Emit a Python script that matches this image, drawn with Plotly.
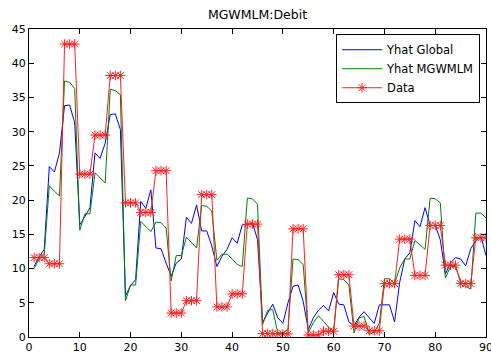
import plotly.graph_objects as go

x_index = list(range(1, 91))

yhat_global = [
    10.3, 11.7, 12.8, 24.9, 24.1, 26.9, 33.8, 33.9, 31.3, 16.4,
    17.6, 18.9, 26.9, 26.1, 28.3, 32.5, 32.6, 30.3, 6.0, 7.5,
    8.4, 19.8, 18.8, 21.5, 13.0, 12.9, 10.8, 8.9, 10.8, 11.4,
    17.5, 16.6, 19.3, 15.5, 15.5, 13.3, 10.3, 11.8, 12.8, 14.5,
    13.7, 16.4, 16.4, 16.7, 14.2, 2.1, 3.5, 4.8, 2.8, 2.0,
    5.0, 7.4, 7.6, 5.2, 1.1, 2.8, 3.9, 4.6, 3.8, 6.5,
    4.8, 4.7, 2.2, 1.6, 2.9, 3.7, 2.8, 2.0, 4.7, 4.7,
    4.7, 2.2, 8.0, 11.4, 12.3, 17.0, 16.1, 18.9, 16.3, 16.3,
    14.2, 9.2, 10.8, 11.6, 11.4, 10.4, 12.9, 14.1, 14.7, 11.9,
]

yhat_mgwmlm = [
    10.0, 11.4, 12.1, 22.1, 21.3, 20.6, 37.4, 37.2, 36.3, 15.6,
    18.0, 18.0, 24.0, 23.2, 22.5, 36.2, 36.0, 35.4, 5.3, 7.6,
    7.6, 16.9, 16.1, 15.4, 16.8, 16.7, 15.9, 8.2, 11.9, 11.9,
    14.6, 13.8, 13.0, 19.2, 19.1, 18.4, 11.2, 12.1, 12.1, 11.4,
    10.6, 10.3, 20.3, 20.2, 19.4, 1.8, 3.9, 4.0, 0.6, 0.6,
    1.1, 11.4, 11.3, 10.6, 0.6, 2.1, 3.1, 2.3, 1.4, 0.9,
    8.5, 8.4, 7.6, 0.6, 2.8, 3.0, 0.4, 0.7, 2.0, 8.5,
    8.5, 7.8, 10.1, 11.4, 11.4, 14.1, 13.4, 12.8, 20.3, 20.2,
    19.6, 8.6, 10.3, 10.3, 8.2, 7.4, 7.0, 18.1, 18.1, 17.4,
]

data_values = [
    11.6, 11.6, 11.6, 10.7, 10.7, 10.7, 42.8, 42.8, 42.8, 23.8,
    23.8, 23.8, 29.5, 29.5, 29.5, 38.2, 38.2, 38.2, 19.6, 19.6,
    19.6, 18.2, 18.2, 18.2, 24.3, 24.3, 24.3, 3.5, 3.5, 3.5,
    5.3, 5.3, 5.3, 20.8, 20.8, 20.8, 4.4, 4.4, 4.4, 6.3,
    6.3, 6.3, 16.5, 16.5, 16.5, 0.5, 0.5, 0.5, 0.45, 0.45,
    0.45, 15.8, 15.8, 15.8, 0.3, 0.3, 0.3, 0.85, 0.85, 0.85,
    9.1, 9.1, 9.1, 1.6, 1.6, 1.6, 0.9, 0.9, 0.9, 7.8,
    7.8, 7.8, 14.3, 14.3, 14.3, 9.0, 9.0, 9.0, 16.3, 16.3,
    16.3, 10.5, 10.5, 10.5, 7.8, 7.8, 7.8, 14.5, 14.5, 14.5,
]

x_ticks = [0, 10, 20, 30, 40, 50, 60, 70, 80, 90]
y_ticks = [0, 5, 10, 15, 20, 25, 30, 35, 40, 45]

FONT = "DejaVu Sans"

fig = go.Figure()
fig.add_trace(go.Scatter(x=x_index, y=yhat_global, mode="lines", name="Yhat Global",
                         line=dict(color="#0000ff", width=1)))
fig.add_trace(go.Scatter(x=x_index, y=yhat_mgwmlm, mode="lines", name="Yhat MGWMLM",
                         line=dict(color="#008000", width=1)))
fig.add_trace(go.Scatter(x=x_index, y=data_values, mode="lines+markers", name="Data",
                         line=dict(color="#ff2020", width=1),
                         marker=dict(symbol="asterisk-open", size=8,
                                     line=dict(color="#ff0000", width=1))))

axis_common = dict(showgrid=False, zeroline=False, showline=True, linecolor="black",
                   linewidth=1, mirror="ticks", ticks="inside", ticklen=5,
                   tickcolor="black", automargin=False, ticklabeloverflow="allow",
                   tickfont=dict(family=FONT, size=11, color="black"))

fig.update_layout(
    width=491, height=353,
    margin=dict(l=29, r=5, t=29, b=16),
    paper_bgcolor="white", plot_bgcolor="white",
    title=dict(text="MGWMLM:Debit", x=0.5, xref="paper", xanchor="center",
               y=1 - 15 / 353, yref="container", yanchor="middle",
               font=dict(family=FONT, size=12.5, color="black")),
    xaxis=dict(range=[0, 90], tickvals=x_ticks, ticktext=[str(v) for v in x_ticks], **axis_common),
    yaxis=dict(range=[0, 45], tickvals=y_ticks, ticktext=[str(v) for v in y_ticks], **axis_common),
    legend=dict(x=0.987, y=0.983, xanchor="right", yanchor="top",
                bgcolor="white", bordercolor="black", borderwidth=1,
                font=dict(family=FONT, size=11.5, color="black"),
                itemwidth=40, tracegroupgap=0),
    showlegend=True,
)

fig.write_html("out.html", config={"displayModeBar": False},
               post_script="document.body.style.margin='0px';document.body.style.overflow='hidden';")
